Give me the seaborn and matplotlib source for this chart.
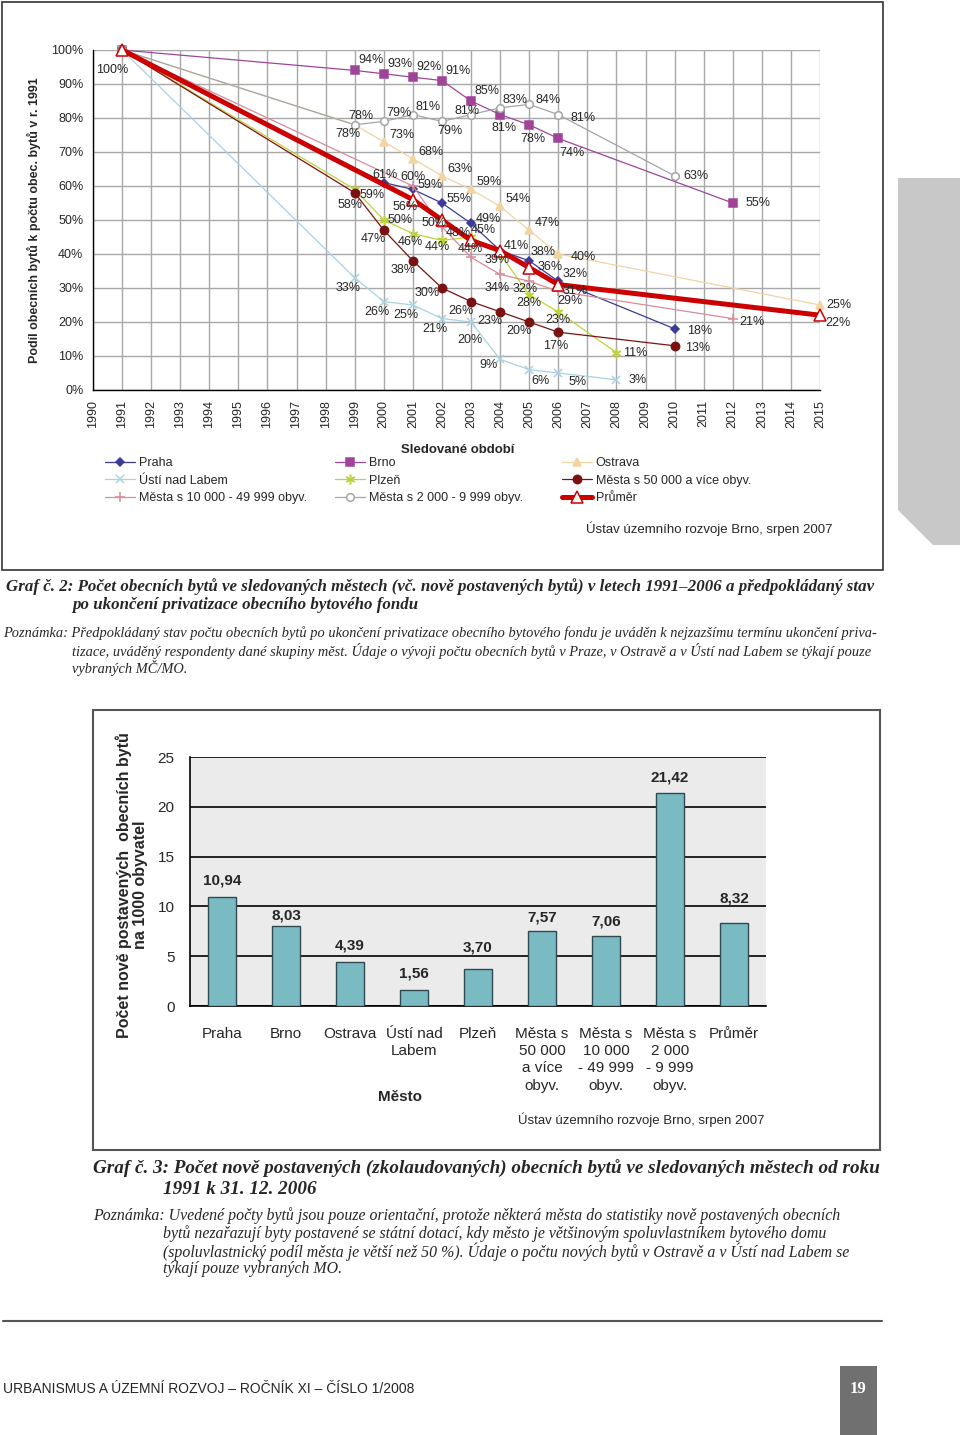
import matplotlib
matplotlib.use("Agg")
import matplotlib.pyplot as plt
import matplotlib.patches as mpatches
import seaborn as sns

W, H = 960, 1435

# Graf 2: share of municipal flats relative to 1991 (%)
praha_years = [1991, 2000, 2001, 2002, 2003, 2004, 2005, 2006, 2010]
praha_vals = [100, 61, 59, 55, 49, 41, 38, 32, 18]
brno_years = [1991, 1999, 2000, 2001, 2002, 2003, 2004, 2005, 2006, 2012]
brno_vals = [100, 94, 93, 92, 91, 85, 81, 78, 74, 55]
ostrava_years = [1991, 1999, 2000, 2001, 2002, 2003, 2004, 2005, 2006, 2015]
ostrava_vals = [100, 78, 73, 68, 63, 59, 54, 47, 40, 25]
usti_years = [1991, 1999, 2000, 2001, 2002, 2003, 2004, 2005, 2006, 2008]
usti_vals = [100, 33, 26, 25, 21, 20, 9, 6, 5, 3]
plzen_years = [1991, 1999, 2000, 2001, 2002, 2003, 2004, 2005, 2006, 2008]
plzen_vals = [100, 59, 50, 46, 44, 45, 40, 28, 23, 11]
m50_years = [1991, 1999, 2000, 2001, 2002, 2003, 2004, 2005, 2006, 2010]
m50_vals = [100, 58, 47, 38, 30, 26, 23, 20, 17, 13]
m10_years = [1991, 2001, 2002, 2003, 2004, 2005, 2006, 2012]
m10_vals = [100, 60, 48, 39, 34, 32, 29, 21]
m2_years = [1991, 1999, 2000, 2001, 2002, 2003, 2004, 2005, 2006, 2010]
m2_vals = [100, 78, 79, 81, 79, 81, 83, 84, 81, 63]
prumer_years = [1991, 2001, 2002, 2003, 2004, 2005, 2006, 2015]
prumer_vals = [100, 56, 50, 44, 41, 36, 31, 22]
year_ticks = list(range(1990, 2016))
pct_ticks = list(range(0, 101, 10))

# Graf 3: newly built municipal flats per 1000 inhabitants
cities = ["Praha", "Brno", "Ostrava", "Ústí nad\nLabem", "Plzeň",
          "Města s\n50 000\na více\nobyv.", "Města s\n10 000\n- 49 999\nobyv.",
          "Města s\n2 000\n- 9 999\nobyv.", "Průměr"]
new_flats = [10.94, 8.03, 4.39, 1.56, 3.70, 7.57, 7.06, 21.42, 8.32]
bar_ticks = [0, 5, 10, 15, 20, 25]


def fx(x):
    return x / W


def fy(y):
    return 1 - y / H


sns.set_style("white")
plt.rcParams["font.family"] = ["Liberation Sans", "DejaVu Sans"]

fig = plt.figure(figsize=(W / 100, H / 100), dpi=100)

# ---------------- top chart ----------------
ax = fig.add_axes([fx(93), fy(390), (820 - 93) / W, 340 / H])

# label offsets in pixels (dx right, dy down), default + per year overrides
series = [
    dict(name="Praha", years=praha_years, vals=praha_vals, color="#3B3B98", marker="D", ms=4.5,
         mfc="#3B3B98", lw=0.9, dflt=(17, -4),
         off={2000: (1, -8), 2004: (16, -5), 2005: (14, -9), 2006: (17, -7), 2010: (25, 2)}),
    dict(name="Brno", years=brno_years, vals=brno_vals, color="#A0449A", marker="s", ms=5.5,
         mfc="#A0449A", lw=0.9, dflt=(16, -10),
         off={2004: (4, 13), 2005: (4, 14), 2006: (14, 15), 2012: (25, 0)}),
    dict(name="Ostrava", years=ostrava_years, vals=ostrava_vals, color="#F2D3A2", marker="^", ms=6,
         mfc="#F2D3A2", lw=0.9, dflt=(18, -7),
         off={1999: (-7, 9), 2006: (25, 3), 2015: (19, 0)}),
    dict(name="Ústí nad Labem", years=usti_years, vals=usti_vals, color="#A9D2E2", marker="x", ms=5.5,
         mfc="#A9D2E2", lw=0.9, dflt=(-7, 10),
         off={2003: (-1, 18), 2004: (-12, 6), 2005: (11, 11), 2006: (19, 9), 2008: (21, 0)}),
    dict(name="Plzeň", years=plzen_years, vals=plzen_vals, color="#BFD23E", marker=(6, 2, 0), ms=7,
         mfc="#BFD23E", lw=0.9, dflt=(0, 8), hide={2004},
         off={1999: (17, 6), 2000: (16, 0), 2001: (-3, 8), 2002: (-5, 7), 2003: (12, -7), 2008: (19, 0)}),
    dict(name="Města s 50 000 a více obyv.", years=m50_years, vals=m50_vals, color="#7A1212", marker="o", ms=6,
         mfc="#7A1212", lw=0.9, dflt=(-10, 9),
         off={1999: (-5, 12), 2002: (-15, 5), 2006: (-3, 14), 2010: (23, 2)}),
    dict(name="Města s 10 000 - 49 999 obyv.", years=m10_years, vals=m10_vals, color="#D68C9A", marker="+", ms=7,
         mfc="#D68C9A", lw=0.9, dflt=(16, 6),
         off={2001: (0, -9), 2003: (26, 3), 2004: (-3, 14), 2005: (-4, 8), 2006: (12, 10), 2012: (19, 3)}),
    dict(name="Města s 2 000 - 9 999 obyv.", years=m2_years, vals=m2_vals, color="#A5A5A5", marker="o", ms=5.5,
         mfc="white", lw=0.9, dflt=(15, -8),
         off={1999: (6, -9), 2002: (8, 10), 2003: (-4, -4), 2005: (19, -4), 2006: (25, 3), 2010: (21, 0)}),
    dict(name="Průměr", years=prumer_years, vals=prumer_vals, color="#CC0000", marker="^", ms=8,
         mfc="white", lw=3.6, dflt=(18, 0), hide={2004},
         off={1991: (-10, 20), 2001: (-8, 7), 2002: (-8, 3), 2003: (-1, 9), 2005: (21, -1),
              2006: (17, 6), 2015: (18, 8)}),
]

for s in series:
    sns.lineplot(x=s["years"], y=s["vals"], ax=ax, color=s["color"], marker=s["marker"],
                 markersize=s["ms"], markerfacecolor=s["mfc"], markeredgecolor=s["color"],
                 markeredgewidth=1.1, linewidth=s["lw"], label=s["name"], clip_on=False,
                 zorder=5 if s["name"] == "Průměr" else 3, legend=False)
    for yr, v in zip(s["years"], s["vals"]):
        if yr == 1991 and s["name"] != "Průměr":
            continue
        if yr in s.get("hide", set()):
            continue
        dx, dy = s["off"].get(yr, s["dflt"])
        ax.annotate(f"{v}%", (yr, v), xytext=(dx, -dy), textcoords="offset pixels",
                    ha="center", va="center", fontsize=9, zorder=6)

ax.set_xlim(1990, 2015)
ax.set_ylim(0, 100)
ax.set_xticks(year_ticks)
ax.set_xticklabels([str(y) for y in year_ticks], rotation=90, fontsize=9)
ax.set_yticks(pct_ticks)
ax.set_yticklabels([f"{t}%" for t in pct_ticks], fontsize=9)
ax.grid(True, color="#A8A8A8", linewidth=1.0)
ax.set_axisbelow(True)
for sp in ["top", "right"]:
    ax.spines[sp].set_visible(False)
for sp in ["left", "bottom"]:
    ax.spines[sp].set_color("black")
    ax.spines[sp].set_linewidth(1.0)
ax.tick_params(axis="both", direction="out", length=4, width=1, color="black", pad=3)
ax.set_xlabel("Sledované období", fontsize=9.5, fontweight="bold")
ax.xaxis.set_label_coords((458 - 93) / (820 - 93), -(444 - 390) / 340)
ax.set_ylabel("Podíl obecních bytů k počtu obec. bytů v r. 1991", fontsize=9, fontweight="bold")
ax.yaxis.set_label_coords(-(93 - 41) / (820 - 93), 0.5)

handles, labels = ax.get_legend_handles_labels()
hmap = dict(zip(labels, handles))
legend_cols = [
    (["Praha", "Ústí nad Labem", "Města s 10 000 - 49 999 obyv."], 105),
    (["Brno", "Plzeň", "Města s 2 000 - 9 999 obyv."], 335),
    (["Ostrava", "Města s 50 000 a více obyv.", "Průměr"], 562),
]
for names, xpos in legend_cols:
    fig.legend([hmap[n] for n in names], names, loc="upper left",
               bbox_to_anchor=(fx(xpos), fy(457)), frameon=False, fontsize=9,
               handlelength=2.4, handletextpad=0.3, labelspacing=0.45, borderpad=0,
               borderaxespad=0)

fig.text(fx(833), fy(529), "Ústav územního rozvoje Brno, srpen 2007", ha="right", va="center",
         fontsize=9.5)

# frames and page decoration
fig.add_artist(mpatches.Rectangle((fx(2), fy(570)), 881 / W, 568 / H, transform=fig.transFigure,
                                  fill=False, ec="#333333", lw=1.2))
fig.add_artist(mpatches.Polygon([(fx(898), fy(178)), (fx(960), fy(178)), (fx(960), fy(545)),
                                 (fx(933), fy(545)), (fx(898), fy(510))],
                                closed=True, transform=fig.transFigure, fc="#C8C8C8", ec="none"))

serif = ["Liberation Serif", "DejaVu Serif"]
fig.text(fx(6), fy(587), "Graf č. 2: Počet obecních bytů ve sledovaných městech (vč. nově postavených bytů) "
         "v letech 1991–2006 a předpokládaný stav", family=serif, style="italic", weight="bold",
         fontsize=12.2, va="center")
fig.text(fx(72), fy(605), "po ukončení privatizace obecního bytového fondu", family=serif,
         style="italic", weight="bold", fontsize=12.2, va="center")
fig.text(fx(3), fy(633), "Poznámka: Předpokládaný stav počtu obecních bytů po ukončení privatizace obecního "
         "bytového fondu je uváděn k nejzazšímu termínu ukončení priva-", family=serif, style="italic",
         fontsize=10.4, va="center")
fig.text(fx(72), fy(651), "tizace, uváděný respondenty dané skupiny měst. Údaje o vývoji počtu obecních bytů "
         "v Praze, v Ostravě a v Ústí nad Labem se týkají pouze", family=serif, style="italic",
         fontsize=10.4, va="center")
fig.text(fx(72), fy(668), "vybraných MČ/MO.", family=serif, style="italic", fontsize=10.4, va="center")

# ---------------- bar chart ----------------
fig.add_artist(mpatches.Rectangle((fx(93), fy(1150)), (880 - 93) / W, (1150 - 710) / H,
                                  transform=fig.transFigure, fill=False, ec="#555555", lw=1.5))
ax2 = fig.add_axes([fx(190), fy(1006), 576 / W, (1006 - 757) / H])
ax2.set_facecolor("#EBEBEB")
sns.barplot(x=list(range(len(cities))), y=new_flats, ax=ax2, color="#79BAC3", saturation=1,
            width=0.44, edgecolor="#2E4A4E", linewidth=1.0, zorder=3, native_scale=True)
label_dy = [17, 11, 17, 17, 22, 13, 14, 15, 25]
for i, v in enumerate(new_flats):
    ax2.annotate(f"{v:.2f}".replace(".", ","), (i, v), xytext=(0, label_dy[i]),
                 textcoords="offset pixels", ha="center", va="center", fontsize=11,
                 fontweight="bold")
ax2.set_xlim(-0.5, len(cities) - 0.5)
ax2.set_ylim(0, 25)
ax2.set_yticks(bar_ticks)
ax2.set_yticklabels([str(t) for t in bar_ticks], fontsize=11)
ax2.set_xticks(range(len(cities)))
ax2.set_xticklabels(cities, fontsize=11, linespacing=1.3)
ax2.set_xticks([i + 0.5 for i in range(-1, len(cities))], minor=True)
ax2.tick_params(axis="x", which="major", length=0, pad=15)
ax2.tick_params(axis="x", which="minor", length=5, width=1, color="black", direction="out")
ax2.tick_params(axis="y", length=5, width=1, color="black", direction="out", pad=6)
ax2.yaxis.grid(True, color="black", linewidth=1.2)
ax2.xaxis.grid(False)
ax2.set_axisbelow(True)
for sp in ["top", "right"]:
    ax2.spines[sp].set_visible(False)
for sp in ["left", "bottom"]:
    ax2.spines[sp].set_color("black")
    ax2.spines[sp].set_linewidth(1.2)
ax2.set_xlabel("Město", fontsize=11, fontweight="bold")
ax2.xaxis.set_label_coords((400 - 190) / 576, -(1090 - 1006) / 249)
ax2.set_ylabel("Počet nově postavených  obecních bytů\nna 1000 obyvatel", fontsize=11.5,
               fontweight="bold", linespacing=1.1)
ax2.yaxis.set_label_coords(-(190 - 148) / 576, (1006 - 885) / 249)
fig.text(fx(765), fy(1120), "Ústav územního rozvoje Brno, srpen 2007", ha="right", va="center",
         fontsize=9.5)

fig.text(fx(93), fy(1169), "Graf č. 3: Počet nově postavených (zkolaudovaných) obecních bytů ve sledovaných "
         "městech od roku", family=serif, style="italic", weight="bold", fontsize=13.8, va="center")
fig.text(fx(163), fy(1189), "1991 k 31. 12. 2006", family=serif, style="italic", weight="bold",
         fontsize=13.8, va="center")
fig.text(fx(93), fy(1216), "Poznámka: Uvedené počty bytů jsou pouze orientační, protože některá města do "
         "statistiky nově postavených obecních", family=serif, style="italic", fontsize=11.4, va="center")
fig.text(fx(163), fy(1234), "bytů nezařazují byty postavené se státní dotací, kdy město je většinovým "
         "spoluvlastníkem bytového domu", family=serif, style="italic", fontsize=11.4, va="center")
fig.text(fx(163), fy(1252), "(spoluvlastnický podíl města je větší než 50 %). Údaje o počtu nových bytů "
         "v Ostravě a v Ústí nad Labem se", family=serif, style="italic", fontsize=11.4, va="center")
fig.text(fx(163), fy(1269), "týkají pouze vybraných MO.", family=serif, style="italic", fontsize=11.4,
         va="center")

# footer
fig.add_artist(plt.Line2D([fx(3), fx(882)], [fy(1321), fy(1321)], transform=fig.transFigure,
                          color="#555555", lw=1.5))
fig.text(fx(3), fy(1389), "URBANISMUS A ÚZEMNÍ ROZVOJ – ROČNÍK XI – ČÍSLO 1/2008",
         family=["Liberation Sans", "DejaVu Sans"], fontsize=10, va="center")
fig.add_artist(mpatches.Rectangle((fx(840), 0), 37 / W, (1435 - 1366) / H, transform=fig.transFigure,
                                  fc="#707070", ec="none"))
fig.text(fx(858), fy(1389), "19", family=serif, weight="bold", color="white", fontsize=12,
         ha="center", va="center")

fig.savefig("out.png", dpi=100)
